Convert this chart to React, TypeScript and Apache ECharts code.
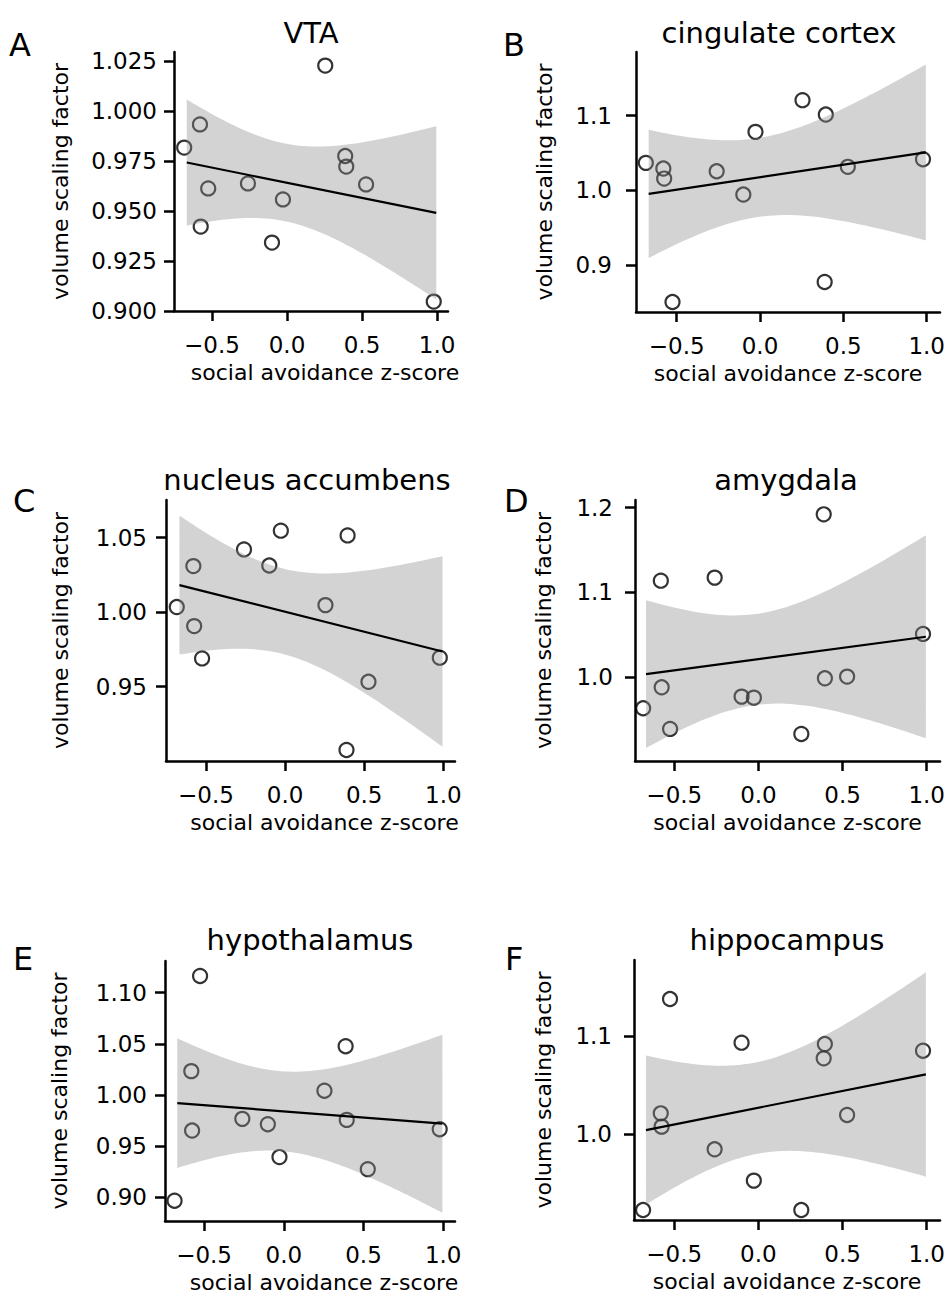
import React, { useEffect, useRef } from "react";
import * as echarts from "echarts";

// ---- data ----
const xScores = [-0.685, -0.58, -0.575, -0.525, -0.26, -0.1, -0.027, 0.255, 0.388, 0.395, 0.527, 0.978];
const fitRange = [-0.668, 0.995];

const vtaValues = [0.9817, 0.9933, 0.9422, 0.9613, 0.9638, 0.9342, 0.9558, 1.0227, 0.9775, 0.9722, 0.9633, 0.9047];
const cingulateValues = [1.0366, 1.029, 1.0156, 0.8504, 1.0254, 0.9942, 1.0781, 1.1205, 0.8772, 1.1013, 1.0313, 1.0415];
const accumbensValues = [1.0034, 1.0309, 0.9906, 0.9689, 1.0421, 1.0313, 1.0547, 1.0047, 0.9074, 1.0515, 0.9532, 0.9694];
const amygdalaValues = [0.9635, 1.1139, 0.9882, 0.9391, 1.1175, 0.9772, 0.976, 0.9332, 1.1921, 0.9988, 1.0008, 1.0511];
const hypothalamusValues = [0.8968, 1.0233, 0.9653, 1.1162, 0.9767, 0.9715, 0.9394, 1.0042, 1.0476, 0.9757, 0.9276, 0.9666];
const hippocampusValues = [0.9224, 1.0211, 1.0075, 1.1378, 0.9844, 1.0932, 0.9524, 0.9224, 1.0772, 1.0918, 1.0194, 1.085];

const panelTitles = ["VTA", "cingulate cortex", "nucleus accumbens", "amygdala", "hypothalamus", "hippocampus"];
const panelLetters = ["A", "B", "C", "D", "E", "F"];
const xTicks = [-0.5, 0, 0.5, 1.0];
const yTicksA = [0.9, 0.925, 0.95, 0.975, 1.0, 1.025];
const yTicksB = [0.9, 1.0, 1.1];
const yTicksC = [0.95, 1.0, 1.05];
const yTicksD = [1.0, 1.1, 1.2];
const yTicksE = [0.9, 0.95, 1.0, 1.05, 1.1];
const yTicksF = [1.0, 1.1];
const xLabel = "social avoidance z-score";
const yLabel = "volume scaling factor";

const T_CRIT = 2.228; // t(0.975, df = 10)

// ---- layout ----
const FONT = "DejaVu Sans";
const panels = [
  { ys: vtaValues, yTicks: yTicksA, dec: 3, grid: [174, 52, 274, 259], x: [-0.753, 1.073], y: [0.9, 1.0295], lm: 17, yGap: 103, xPad: 28, tc: 311, tb: 42.7, lx: 9, lb: 56 },
  { ys: cingulateValues, yTicks: yTicksB, dec: 1, grid: [636, 52, 304, 260], x: [-0.744, 1.08], y: [0.837, 1.185], lm: 24, yGap: 81, xPad: 0, tc: 779, tb: 42.7, lx: 503, lb: 56 },
  { ys: accumbensValues, yTicks: yTicksC, dec: 2, grid: [166, 500, 289, 261], x: [-0.753, 1.074], y: [0.9, 1.0753], lm: 19, yGap: 95, xPad: 28, tc: 307, tb: 490, lx: 13, lb: 512 },
  { ys: amygdalaValues, yTicks: yTicksD, dec: 1, grid: [635, 500, 305, 261], x: [-0.7335, 1.079], y: [0.9013, 1.209], lm: 22, yGap: 81, xPad: 0, tc: 786, tb: 490, lx: 504, lb: 512 },
  { ys: hypothalamusValues, yTicks: yTicksE, dec: 2, grid: [165, 961, 290, 261], x: [-0.745, 1.074], y: [0.877, 1.1308], lm: 18, yGap: 95, xPad: 28, tc: 310, tb: 950, lx: 13, lb: 970 },
  { ys: hippocampusValues, yTicks: yTicksF, dec: 1, grid: [634, 960, 306, 260], x: [-0.739, 1.079], y: [0.9122, 1.1776], lm: 22, yGap: 80, xPad: 0, tc: 787, tb: 949.5, lx: 505, lb: 970 },
];

function regression(xs: number[], ys: number[]) {
  const n = xs.length;
  const mx = xs.reduce((a, b) => a + b, 0) / n;
  const my = ys.reduce((a, b) => a + b, 0) / n;
  let sxx = 0, sxy = 0;
  for (let i = 0; i < n; i++) {
    sxx += (xs[i] - mx) ** 2;
    sxy += (xs[i] - mx) * (ys[i] - my);
  }
  const slope = sxy / sxx;
  const icpt = my - slope * mx;
  let ssr = 0;
  for (let i = 0; i < n; i++) ssr += (ys[i] - (icpt + slope * xs[i])) ** 2;
  const s = Math.sqrt(ssr / (n - 2));
  const f = (x: number) => icpt + slope * x;
  const half = (x: number) => T_CRIT * s * Math.sqrt(1 / n + (x - mx) ** 2 / sxx);
  return { f, half };
}

const BLACK = "#000";
const axisLineStyle = { color: BLACK, width: 2.5 };
const fmt = (dec: number) => (v: number) => Number(v).toFixed(dec).replace("-", "\u2212");

function buildOption() {
  const grid: any[] = [], xAxis: any[] = [], yAxis: any[] = [], series: any[] = [], title: any[] = [];
  panels.forEach((p, i) => {
    grid.push({ left: p.grid[0], top: p.grid[1], width: p.grid[2], height: p.grid[3], containLabel: false });
    xAxis.push({
      type: "value", gridIndex: i, min: p.x[0], max: p.x[1],
      axisLine: { show: true, onZero: false, lineStyle: axisLineStyle },
      axisTick: { show: true, length: 10, lineStyle: axisLineStyle, customValues: xTicks },
      axisLabel: { customValues: xTicks, formatter: fmt(1), fontSize: 23, color: BLACK, fontFamily: FONT, margin: 22 },
      splitLine: { show: false },
      name: xLabel, nameLocation: "middle", nameGap: 50,
      nameTextStyle: { fontSize: 22, color: BLACK, fontFamily: FONT, padding: [0, 0, 0, p.xPad] },
    });
    yAxis.push({
      type: "value", gridIndex: i, min: p.y[0], max: p.y[1],
      axisLine: { show: true, onZero: false, lineStyle: axisLineStyle },
      axisTick: { show: true, length: 10, lineStyle: axisLineStyle, customValues: p.yTicks },
      axisLabel: { customValues: p.yTicks, formatter: fmt(p.dec), fontSize: 23, color: BLACK, fontFamily: FONT, margin: p.lm },
      splitLine: { show: false },
      name: yLabel, nameLocation: "middle", nameGap: p.yGap,
      nameTextStyle: { fontSize: 22, color: BLACK, fontFamily: FONT },
    });
    const reg = regression(xScores, p.ys);
    const N = 60;
    const upper: number[][] = [], lower: number[][] = [];
    for (let k = 0; k <= N; k++) {
      const x = fitRange[0] + ((fitRange[1] - fitRange[0]) * k) / N;
      upper.push([x, reg.f(x) + reg.half(x)]);
      lower.push([x, reg.f(x) - reg.half(x)]);
    }
    series.push({
      type: "scatter", xAxisIndex: i, yAxisIndex: i, z: 2, silent: true,
      data: xScores.map((x, k) => [x, p.ys[k]]),
      symbol: "circle", symbolSize: 14,
      itemStyle: { color: "rgba(0,0,0,0)", borderColor: BLACK, borderWidth: 2.2 },
    });
    series.push({
      type: "custom", xAxisIndex: i, yAxisIndex: i, z: 3, silent: true,
      data: [[fitRange[0], reg.f(fitRange[0])]],
      renderItem: (_params: any, api: any) => {
        const pts = upper.map((d) => api.coord(d)).concat(lower.slice().reverse().map((d) => api.coord(d)));
        return { type: "polygon", shape: { points: pts }, style: { fill: "rgba(140,140,140,0.38)", stroke: "none" } };
      },
    });
    series.push({
      type: "line", xAxisIndex: i, yAxisIndex: i, z: 4, silent: true,
      data: [[fitRange[0], reg.f(fitRange[0])], [fitRange[1], reg.f(fitRange[1])]],
      showSymbol: false, symbol: "none",
      lineStyle: { color: BLACK, width: 2.2 },
    });
    title.push({
      text: panelTitles[i], left: p.tc, top: p.tb - 24.5, textAlign: "center", padding: 0,
      textStyle: { fontSize: 29, fontWeight: "normal", color: BLACK, fontFamily: FONT },
    });
    title.push({
      text: panelLetters[i], left: p.lx, top: p.lb - 27.1, padding: 0,
      textStyle: { fontSize: 32, fontWeight: "normal", color: BLACK, fontFamily: FONT },
    });
  });
  return { animation: false, backgroundColor: "#fff", title, grid, xAxis, yAxis, series };
}

export default function App() {
  const ref = useRef<HTMLDivElement>(null);
  useEffect(() => {
    if (!ref.current) return;
    const chart = echarts.init(ref.current, undefined, { renderer: "svg" });
    chart.setOption(buildOption() as any);
    return () => chart.dispose();
  }, []);
  return <div ref={ref} style={{ position: "absolute", left: 0, top: 0, width: 951, height: 1294 }} />;
}
